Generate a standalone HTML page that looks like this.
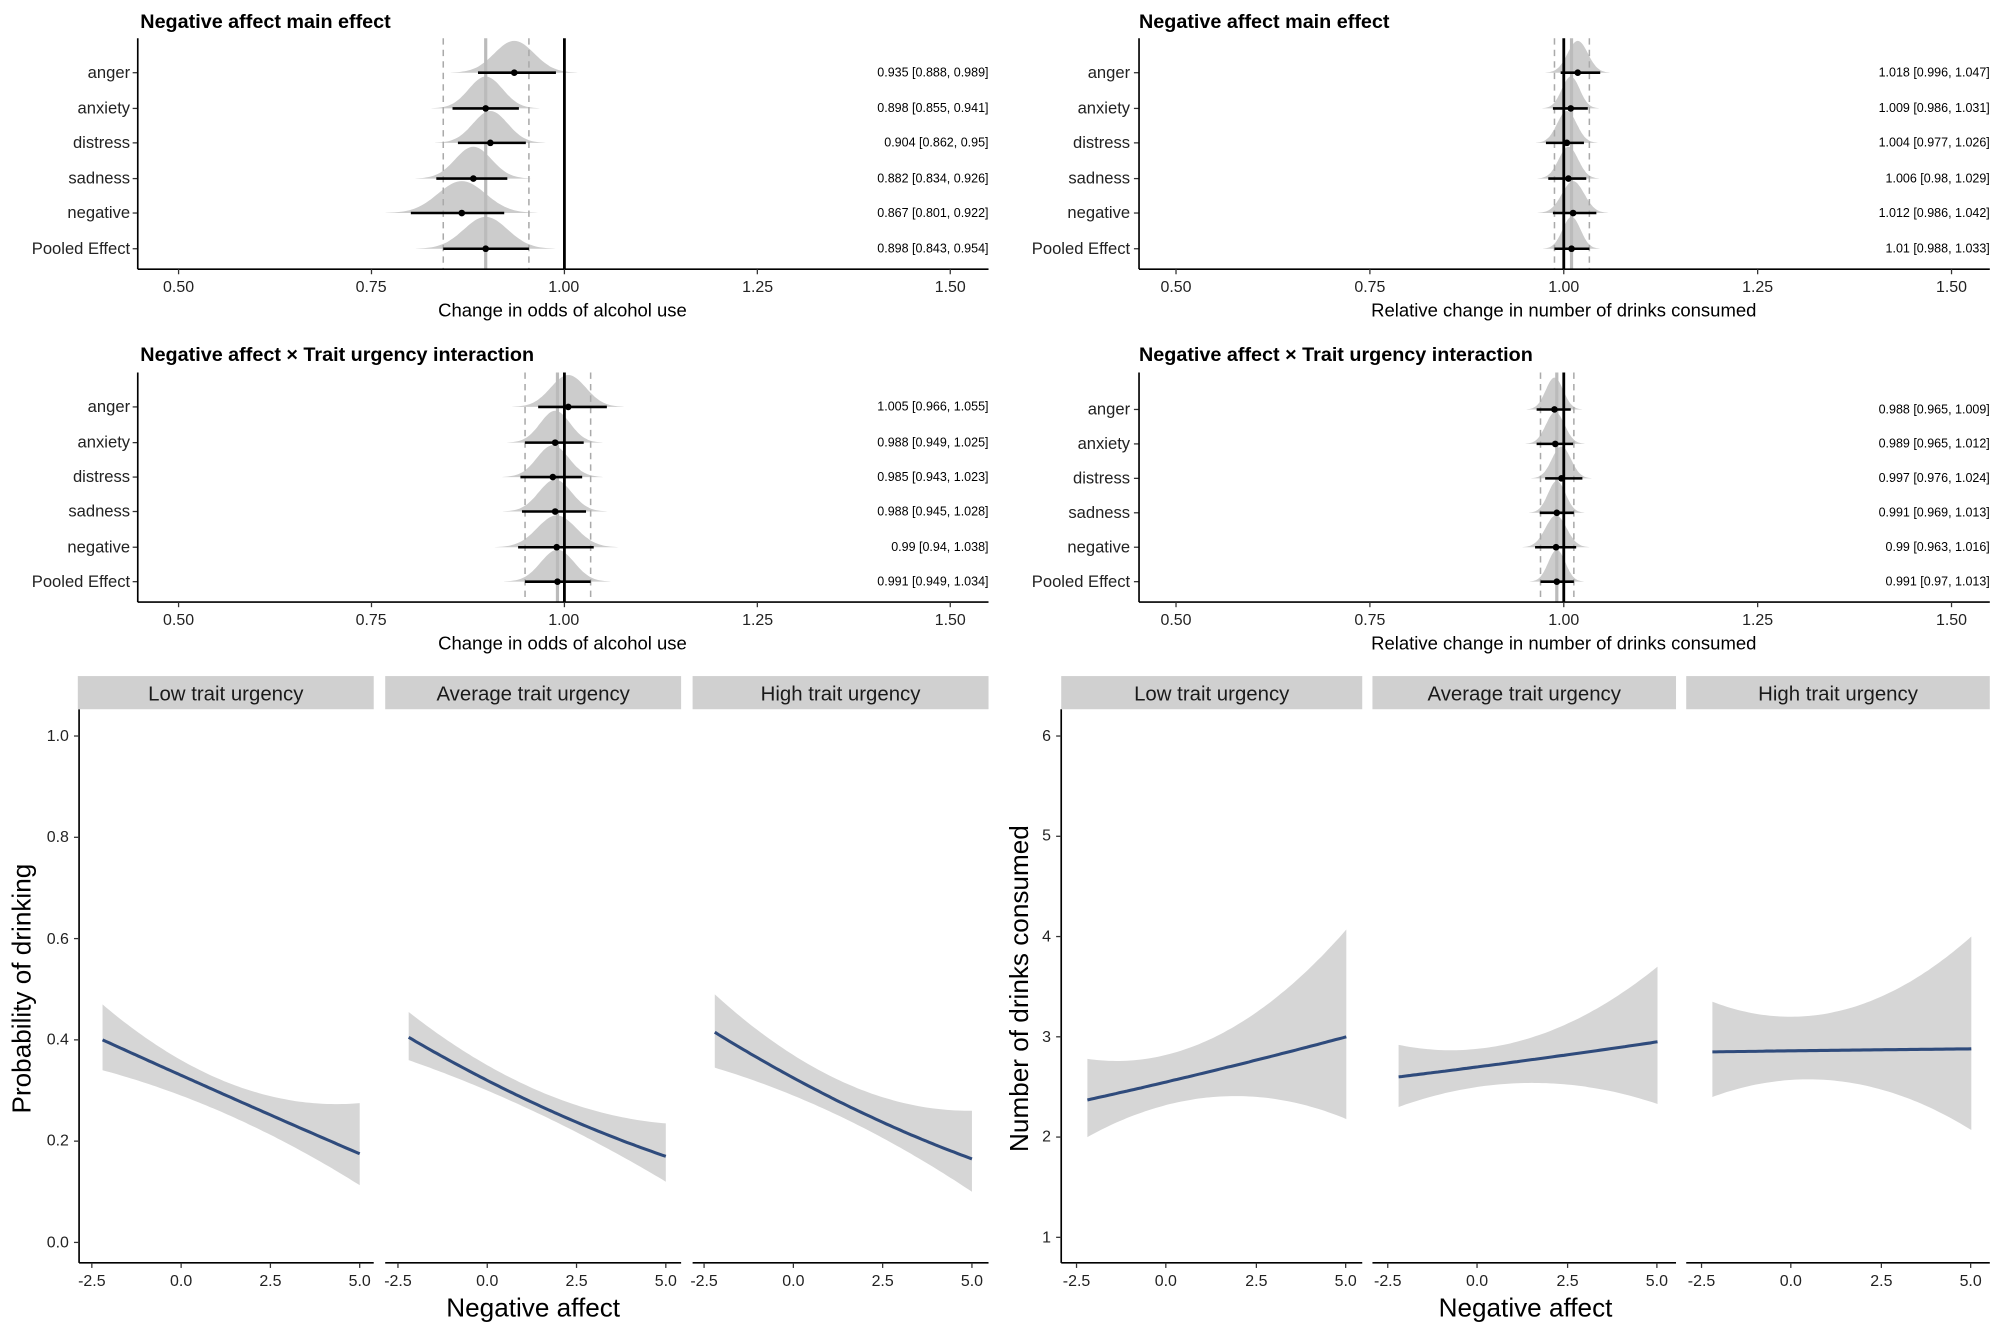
<!DOCTYPE html>
<html><head><meta charset="utf-8">
<style>
html,body{margin:0;padding:0;background:#fff;}
svg{display:block;}
text{font-family:"Liberation Sans",Arial,sans-serif;}
.t{font-weight:bold;font-size:15.5px;fill:#000;}
.yl{font-size:13px;fill:#222;text-anchor:end;}
.tk{font-size:12.5px;fill:#222;text-anchor:middle;}
.tky{font-size:12.5px;fill:#222;text-anchor:end;}
.ax{font-size:14.5px;fill:#000;text-anchor:middle;}
.an{font-size:9.8px;fill:#000;text-anchor:end;}
.st{font-size:16px;fill:#1a1a1a;text-anchor:middle;}
.big{font-size:20.5px;fill:#000;text-anchor:middle;}
</style></head>
<body>
<svg id="s" width="2000" height="1333" viewBox="0 0 1568 1045" preserveAspectRatio="none" xmlns="http://www.w3.org/2000/svg">
<rect width="1568" height="1045" fill="#fff"/>
<g id="shapes"></g>
<text class="t" x="110" y="22">Negative affect main effect</text>
<text class="yl" x="102" y="61">anger</text>
<text class="yl" x="102" y="89">anxiety</text>
<text class="yl" x="102" y="116">distress</text>
<text class="yl" x="102" y="144">sadness</text>
<text class="yl" x="102" y="171">negative</text>
<text class="yl" x="102" y="199">Pooled Effect</text>
<text class="an" x="775" y="60">0.935 [0.888, 0.989]</text>
<text class="an" x="775" y="88">0.898 [0.855, 0.941]</text>
<text class="an" x="775" y="115">0.904 [0.862, 0.95]</text>
<text class="an" x="775" y="143">0.882 [0.834, 0.926]</text>
<text class="an" x="775" y="170">0.867 [0.801, 0.922]</text>
<text class="an" x="775" y="198">0.898 [0.843, 0.954]</text>
<text class="tk" x="140" y="229">0.50</text><text class="tk" x="291" y="229">0.75</text><text class="tk" x="442" y="229">1.00</text><text class="tk" x="594" y="229">1.25</text><text class="tk" x="745" y="229">1.50</text>
<text class="ax" x="441" y="248">Change in odds of alcohol use</text>
<text class="t" x="893" y="22">Negative affect main effect</text>
<text class="yl" x="886" y="61">anger</text>
<text class="yl" x="886" y="89">anxiety</text>
<text class="yl" x="886" y="116">distress</text>
<text class="yl" x="886" y="144">sadness</text>
<text class="yl" x="886" y="171">negative</text>
<text class="yl" x="886" y="199">Pooled Effect</text>
<text class="an" x="1560" y="60">1.018 [0.996, 1.047]</text>
<text class="an" x="1560" y="88">1.009 [0.986, 1.031]</text>
<text class="an" x="1560" y="115">1.004 [0.977, 1.026]</text>
<text class="an" x="1560" y="143">1.006 [0.98, 1.029]</text>
<text class="an" x="1560" y="170">1.012 [0.986, 1.042]</text>
<text class="an" x="1560" y="198">1.01 [0.988, 1.033]</text>
<text class="tk" x="922" y="229">0.50</text><text class="tk" x="1074" y="229">0.75</text><text class="tk" x="1226" y="229">1.00</text><text class="tk" x="1378" y="229">1.25</text><text class="tk" x="1530" y="229">1.50</text>
<text class="ax" x="1226" y="248">Relative change in number of drinks consumed</text>
<text class="t" x="110" y="283">Negative affect × Trait urgency interaction</text>
<text class="yl" x="102" y="323">anger</text>
<text class="yl" x="102" y="351">anxiety</text>
<text class="yl" x="102" y="378">distress</text>
<text class="yl" x="102" y="405">sadness</text>
<text class="yl" x="102" y="433">negative</text>
<text class="yl" x="102" y="460">Pooled Effect</text>
<text class="an" x="775" y="322">1.005 [0.966, 1.055]</text>
<text class="an" x="775" y="350">0.988 [0.949, 1.025]</text>
<text class="an" x="775" y="377">0.985 [0.943, 1.023]</text>
<text class="an" x="775" y="404">0.988 [0.945, 1.028]</text>
<text class="an" x="775" y="432">0.99 [0.94, 1.038]</text>
<text class="an" x="775" y="459">0.991 [0.949, 1.034]</text>
<text class="tk" x="140" y="490">0.50</text><text class="tk" x="291" y="490">0.75</text><text class="tk" x="442" y="490">1.00</text><text class="tk" x="594" y="490">1.25</text><text class="tk" x="745" y="490">1.50</text>
<text class="ax" x="441" y="509">Change in odds of alcohol use</text>
<text class="t" x="893" y="283">Negative affect × Trait urgency interaction</text>
<text class="yl" x="886" y="325">anger</text>
<text class="yl" x="886" y="352">anxiety</text>
<text class="yl" x="886" y="379">distress</text>
<text class="yl" x="886" y="406">sadness</text>
<text class="yl" x="886" y="433">negative</text>
<text class="yl" x="886" y="460">Pooled Effect</text>
<text class="an" x="1560" y="324">0.988 [0.965, 1.009]</text>
<text class="an" x="1560" y="351">0.989 [0.965, 1.012]</text>
<text class="an" x="1560" y="378">0.997 [0.976, 1.024]</text>
<text class="an" x="1560" y="405">0.991 [0.969, 1.013]</text>
<text class="an" x="1560" y="432">0.99 [0.963, 1.016]</text>
<text class="an" x="1560" y="459">0.991 [0.97, 1.013]</text>
<text class="tk" x="922" y="490">0.50</text><text class="tk" x="1074" y="490">0.75</text><text class="tk" x="1226" y="490">1.00</text><text class="tk" x="1378" y="490">1.25</text><text class="tk" x="1530" y="490">1.50</text>
<text class="ax" x="1226" y="509">Relative change in number of drinks consumed</text>
<rect x="61" y="530" width="232" height="26" fill="#d0d0d0"/>
<rect x="302" y="530" width="232" height="26" fill="#d0d0d0"/>
<rect x="543" y="530" width="232" height="26" fill="#d0d0d0"/>
<text class="st" x="177" y="549">Low trait urgency</text>
<text class="st" x="418" y="549">Average trait urgency</text>
<text class="st" x="659" y="549">High trait urgency</text>
<text class="tky" x="54" y="581">1.0</text><text class="tky" x="54" y="660">0.8</text><text class="tky" x="54" y="740">0.6</text><text class="tky" x="54" y="819">0.4</text><text class="tky" x="54" y="898">0.2</text><text class="tky" x="54" y="978">0.0</text>
<text class="big" transform="translate(24,775) rotate(-90)">Probability of drinking</text>
<text class="big" x="418" y="1032">Negative affect</text>
<rect x="832" y="530" width="236" height="26" fill="#d0d0d0"/>
<rect x="1076" y="530" width="238" height="26" fill="#d0d0d0"/>
<rect x="1322" y="530" width="238" height="26" fill="#d0d0d0"/>
<text class="st" x="950" y="549">Low trait urgency</text>
<text class="st" x="1195" y="549">Average trait urgency</text>
<text class="st" x="1441" y="549">High trait urgency</text>
<text class="tky" x="824" y="581">6</text><text class="tky" x="824" y="659">5</text><text class="tky" x="824" y="738">4</text><text class="tky" x="824" y="817">3</text><text class="tky" x="824" y="895">2</text><text class="tky" x="824" y="974">1</text>
<text class="big" transform="translate(806,775) rotate(-90)">Number of drinks consumed</text>
<text class="big" x="1196" y="1032">Negative affect</text>
<g id="ticklabels">
<text class="tk" x="72" y="1008">-2.5</text><text class="tk" x="142" y="1008">0.0</text><text class="tk" x="212" y="1008">2.5</text><text class="tk" x="282" y="1008">5.0</text>
<text class="tk" x="312" y="1008">-2.5</text><text class="tk" x="382" y="1008">0.0</text><text class="tk" x="452" y="1008">2.5</text><text class="tk" x="522" y="1008">5.0</text>
<text class="tk" x="552" y="1008">-2.5</text><text class="tk" x="622" y="1008">0.0</text><text class="tk" x="692" y="1008">2.5</text><text class="tk" x="762" y="1008">5.0</text>
<text class="tk" x="844" y="1008">-2.5</text><text class="tk" x="914" y="1008">0.0</text><text class="tk" x="985" y="1008">2.5</text><text class="tk" x="1055" y="1008">5.0</text>
<text class="tk" x="1088" y="1008">-2.5</text><text class="tk" x="1158" y="1008">0.0</text><text class="tk" x="1229" y="1008">2.5</text><text class="tk" x="1299" y="1008">5.0</text>
<text class="tk" x="1334" y="1008">-2.5</text><text class="tk" x="1404" y="1008">0.0</text><text class="tk" x="1475" y="1008">2.5</text><text class="tk" x="1545" y="1008">5.0</text>
</g>
</svg>
<script>
(function(){
var g=document.getElementById('shapes'),h='';
function L(x1,y1,x2,y2,c,w,d){h+='<line x1="'+x1+'" y1="'+y1+'" x2="'+x2+'" y2="'+y2+'" stroke="'+c+'" stroke-width="'+w+'"'+(d?' stroke-dasharray="'+d+'"':'')+'/>';}
function forest(ax0,ax1,x50,unit,rows,data,pool,bottom,top){
  var X=function(v){return x50+(v-0.5)*unit;};
  data.forEach(function(d,i){
    var y=rows[i],m=d[0],sd=(d[2]-d[1])/3.92,pts=[];
    for(var k=-3.2;k<=3.2;k+=0.1){var v=m+k*sd;pts.push(X(v).toFixed(1)+','+(y-25*Math.exp(-k*k/2)).toFixed(1));}
    h+='<polygon points="'+X(m-3.2*sd).toFixed(1)+','+y+' '+pts.join(' ')+' '+X(m+3.2*sd).toFixed(1)+','+y+'" fill="#cccccc"/>';
  });
  L(X(pool[1]),top,X(pool[1]),bottom,'#aaa',1.2,'5,4');
  L(X(pool[2]),top,X(pool[2]),bottom,'#aaa',1.2,'5,4');
  L(X(pool[0]),top,X(pool[0]),bottom,'#bbb',2.5);
  L(X(1),top,X(1),bottom,'#000',2.2);
  data.forEach(function(d,i){var y=rows[i];L(X(d[1]),y,X(d[2]),y,'#000',2);h+='<circle cx="'+X(d[0])+'" cy="'+y+'" r="2.6" fill="#000"/>';L(ax0-4,y,ax0,y,'#333',1);});
  L(ax0,top,ax0,bottom,'#000',1.3);L(ax0,bottom,ax1,bottom,'#000',1.3);
  [0.5,0.75,1,1.25,1.5].forEach(function(v){L(X(v),bottom,X(v),bottom+4,'#333',1);});
}
var r1=[57,85,112,140,167,195],r2=[319,347,374,401,429,456],r3=[321,348,375,402,429,456];
forest(108,775,140,605,r1,[[.935,.888,.989],[.898,.855,.941],[.904,.862,.95],[.882,.834,.926],[.867,.801,.922],[.898,.843,.954]],[.898,.843,.954],211,30);
forest(893,1560,922,608,r1,[[1.018,.996,1.047],[1.009,.986,1.031],[1.004,.977,1.026],[1.006,.98,1.029],[1.012,.986,1.042],[1.01,.988,1.033]],[1.01,.988,1.033],211,30);
forest(108,775,140,605,r2,[[1.005,.966,1.055],[.988,.949,1.025],[.985,.943,1.023],[.988,.945,1.028],[.99,.94,1.038],[.991,.949,1.034]],[.991,.949,1.034],472,292);
forest(893,1560,922,608,r3,[[.988,.965,1.009],[.989,.965,1.012],[.997,.976,1.024],[.991,.969,1.013],[.99,.963,1.016],[.991,.97,1.013]],[.991,.97,1.013],472,292);
function q(a,b,c){var x0=-2.2,x1=0,x2=5;return function(x){return a*(x-x1)*(x-x2)/((x0-x1)*(x0-x2))+b*(x-x0)*(x-x2)/((x1-x0)*(x1-x2))+c*(x-x0)*(x-x1)/((x2-x0)*(x2-x1));};}
function facet(x0,unit,Y,line,up,lo){
  var X=function(v){return x0+(v+2.5)*unit;};
  var f=q.apply(null,line),u=q.apply(null,up),l=q.apply(null,lo),A=[],B=[],C=[];
  for(var v=-2.2;v<=5.0001;v+=0.1){A.push(X(v).toFixed(1)+','+Y(u(v)).toFixed(1));B.unshift(X(v).toFixed(1)+','+Y(l(v)).toFixed(1));C.push(X(v).toFixed(1)+','+Y(f(v)).toFixed(1));}
  h+='<polygon points="'+A.concat(B).join(' ')+'" fill="#d6d6d6"/>';
  h+='<polyline points="'+C.join(' ')+'" fill="none" stroke="#2f4b7c" stroke-width="2.4"/>';
}
var YL=function(p){return 974-p*397;},YR=function(n){return 970-(n-1)*78.6;};
facet(72,28,YL,[.40,.33,.175],[.47,.36,.275],[.34,.29,.113]);
facet(312,28,YL,[.405,.32,.17],[.455,.35,.235],[.36,.30,.12]);
facet(552,28,YL,[.415,.325,.165],[.49,.37,.26],[.345,.29,.10]);
facet(844,28.2,YR,[2.37,2.55,3.0],[2.78,2.82,4.07],[2.0,2.32,2.18]);
facet(1088,28.2,YR,[2.6,2.7,2.95],[2.92,2.88,3.7],[2.3,2.5,2.33]);
facet(1334,28.2,YR,[2.85,2.86,2.88],[3.35,3.2,4.0],[2.4,2.57,2.07]);
L(62,556,62,990,'#000',1.3);
[[62,293],[302,534],[543,775]].forEach(function(p){L(p[0],990,p[1],990,'#000',1.3);});
[0,.2,.4,.6,.8,1].forEach(function(p){L(58,YL(p),62,YL(p),'#333',1);});
[72,142,212,282,312,382,452,522,552,622,692,762].forEach(function(x){L(x,990,x,994,'#333',1);});
L(832,556,832,990,'#000',1.3);
[[832,1068],[1076,1314],[1322,1560]].forEach(function(p){L(p[0],990,p[1],990,'#000',1.3);});
[1,2,3,4,5,6].forEach(function(n){L(828,YR(n),832,YR(n),'#333',1);});
[844,914,985,1055,1088,1158,1229,1299,1334,1404,1475,1545].forEach(function(x){L(x,990,x,994,'#333',1);});
g.innerHTML=h;
})();
</script>
</body></html>
